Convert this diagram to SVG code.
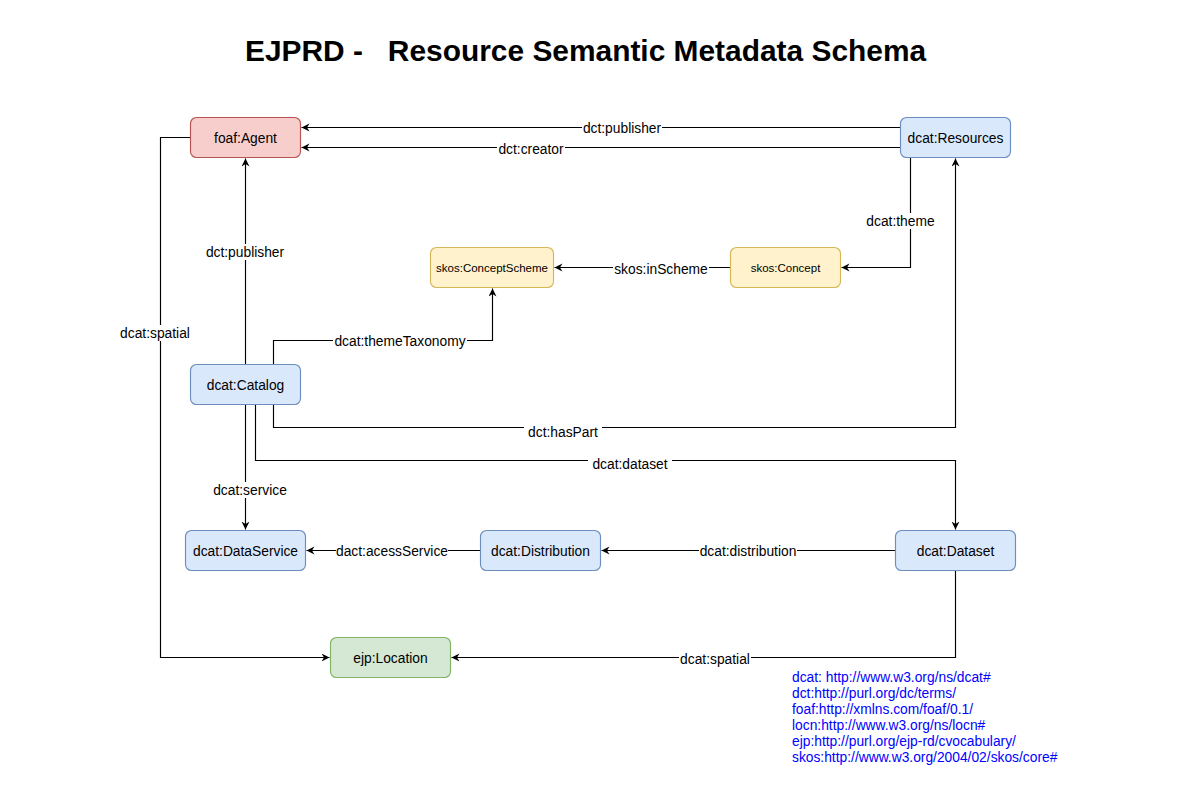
<svg xmlns="http://www.w3.org/2000/svg" width="1181" height="811" viewBox="0 0 1181 811">
<style>
text{font-family:"Liberation Sans",Arial,Helvetica,sans-serif;fill:#000}
.n{font-size:13.8px;text-anchor:middle}
.s{font-size:11.5px;text-anchor:middle}
.e{font-size:13.8px;text-anchor:middle}
.lb{fill:#fff}
.c{fill:none;stroke:#000;stroke-width:1.15}
.blue rect{fill:#dae8fc;stroke:#6c8ebf;stroke-width:1.15}
.red rect{fill:#f8cecc;stroke:#b85450;stroke-width:1.15}
.yel rect{fill:#fff2cc;stroke:#d6b656;stroke-width:1.15}
.grn rect{fill:#d5e8d4;stroke:#82b366;stroke-width:1.15}
.leg{font-size:13.8px;fill:#0000ff}
</style>
<defs>
<marker id="arr" markerWidth="10" markerHeight="10" refX="8" refY="4" orient="auto" markerUnits="userSpaceOnUse">
<path d="M0,0 L8,4 L0,8 L2.5,4 z" fill="#000"/>
</marker>
</defs>
<rect width="1181" height="811" fill="#fff"/>
<text x="245" y="61" xml:space="preserve" style="font-size:29.9px;font-weight:bold">EJPRD -   Resource Semantic Metadata Schema</text>

<g id="connectors">
<path class="c" marker-end="url(#arr)" d="M900.5,127.5 H301.5"/>
<path class="c" marker-end="url(#arr)" d="M900.5,147.5 H301.5"/>
<path class="c" marker-end="url(#arr)" d="M910.5,157.5 V267.5 H841.5"/>
<path class="c" marker-end="url(#arr)" d="M730.5,267.5 H554.5"/>
<path class="c" marker-end="url(#arr)" d="M245.5,364.5 V158.5"/>
<path class="c" marker-end="url(#arr)" d="M273.5,364.5 V340.5 H492.5 V288.5"/>
<path class="c" marker-end="url(#arr)" d="M273.5,404.5 V427.5 H955.5 V158.5"/>
<path class="c" marker-end="url(#arr)" d="M255.5,404.5 V460.5 H955.5 V529.5"/>
<path class="c" marker-end="url(#arr)" d="M245.5,404.5 V529.5"/>
<path class="c" marker-end="url(#arr)" d="M480.5,550.5 H306.5"/>
<path class="c" marker-end="url(#arr)" d="M895.5,550.5 H601.5"/>
<path class="c" marker-end="url(#arr)" d="M190.5,137.5 H160.5 V657.5 H329.5"/>
<path class="c" marker-end="url(#arr)" d="M955.5,570.5 V657.5 H451.5"/>
<g id="edge-labels">
<rect class="lb" x="582" y="120" width="80" height="16"/><text class="e" x="622" y="133">dct:publisher</text>
<rect class="lb" x="497" y="141" width="68" height="16"/><text class="e" x="531" y="154">dct:creator</text>
<rect class="lb" x="866" y="213" width="70" height="16"/><text class="e" x="900.5" y="226">dcat:theme</text>
<rect class="lb" x="613" y="261" width="96" height="16"/><text class="e" x="661" y="274">skos:inScheme</text>
<rect class="lb" x="197" y="244" width="96" height="16"/><text class="e" x="245" y="257">dct:publisher</text>
<rect class="lb" x="114" y="325" width="82" height="16"/><text class="e" x="155" y="338">dcat:spatial</text>
<rect class="lb" x="333" y="333" width="134" height="16"/><text class="e" x="400" y="346">dcat:themeTaxonomy</text>
<rect class="lb" x="524" y="424" width="78" height="16"/><text class="e" x="563" y="437">dct:hasPart</text>
<rect class="lb" x="588" y="456" width="84" height="16"/><text class="e" x="630" y="469">dcat:dataset</text>
<rect class="lb" x="210" y="482" width="80" height="16"/><text class="e" x="250" y="495">dcat:service</text>
<rect class="lb" x="336" y="543" width="112" height="16"/><text class="e" x="392" y="556">dact:acessService</text>
<rect class="lb" x="699" y="543" width="98" height="16"/><text class="e" x="748" y="556">dcat:distribution</text>
<rect class="lb" x="679" y="651" width="72" height="16"/><text class="e" x="715" y="664">dcat:spatial</text>
</g>
</g>

<g id="agent" class="red"><rect x="190.5" y="117.5" width="110" height="40" rx="6"/><text class="n" x="245.5" y="142.5">foaf:Agent</text></g>
<g id="resources" class="blue"><rect x="900.5" y="117.5" width="110" height="40" rx="6"/><text class="n" x="955.5" y="142.5">dcat:Resources</text></g>
<g id="conceptscheme" class="yel"><rect x="430.5" y="247.5" width="123" height="40" rx="6"/><text class="s" x="492" y="271.5">skos:ConceptScheme</text></g>
<g id="concept" class="yel"><rect x="730.5" y="247.5" width="110" height="40" rx="6"/><text class="s" x="785.5" y="271.5">skos:Concept</text></g>
<g id="catalog" class="blue"><rect x="190.5" y="364.5" width="110" height="40" rx="6"/><text class="n" x="245.5" y="389.5">dcat:Catalog</text></g>
<g id="dataservice" class="blue"><rect x="185.5" y="530.5" width="120" height="40" rx="6"/><text class="n" x="245.5" y="555.5">dcat:DataService</text></g>
<g id="distribution" class="blue"><rect x="480.5" y="530.5" width="120" height="40" rx="6"/><text class="n" x="540.5" y="555.5">dcat:Distribution</text></g>
<g id="dataset" class="blue"><rect x="895.5" y="530.5" width="120" height="40" rx="6"/><text class="n" x="955.5" y="555.5">dcat:Dataset</text></g>
<g id="location" class="grn"><rect x="330.5" y="637.5" width="120" height="40" rx="6"/><text class="n" x="390.5" y="662.5">ejp:Location</text></g>

<g id="legend">
<text class="leg" x="792" y="681.5">dcat: http://www.w3.org/ns/dcat#</text>
<text class="leg" x="792" y="697.5">dct:http://purl.org/dc/terms/</text>
<text class="leg" x="792" y="713.5">foaf:http://xmlns.com/foaf/0.1/</text>
<text class="leg" x="792" y="729.5">locn:http://www.w3.org/ns/locn#</text>
<text class="leg" x="792" y="745.5">ejp:http://purl.org/ejp-rd/cvocabulary/</text>
<text class="leg" x="792" y="761.5">skos:http://www.w3.org/2004/02/skos/core#</text>
</g>
</svg>
